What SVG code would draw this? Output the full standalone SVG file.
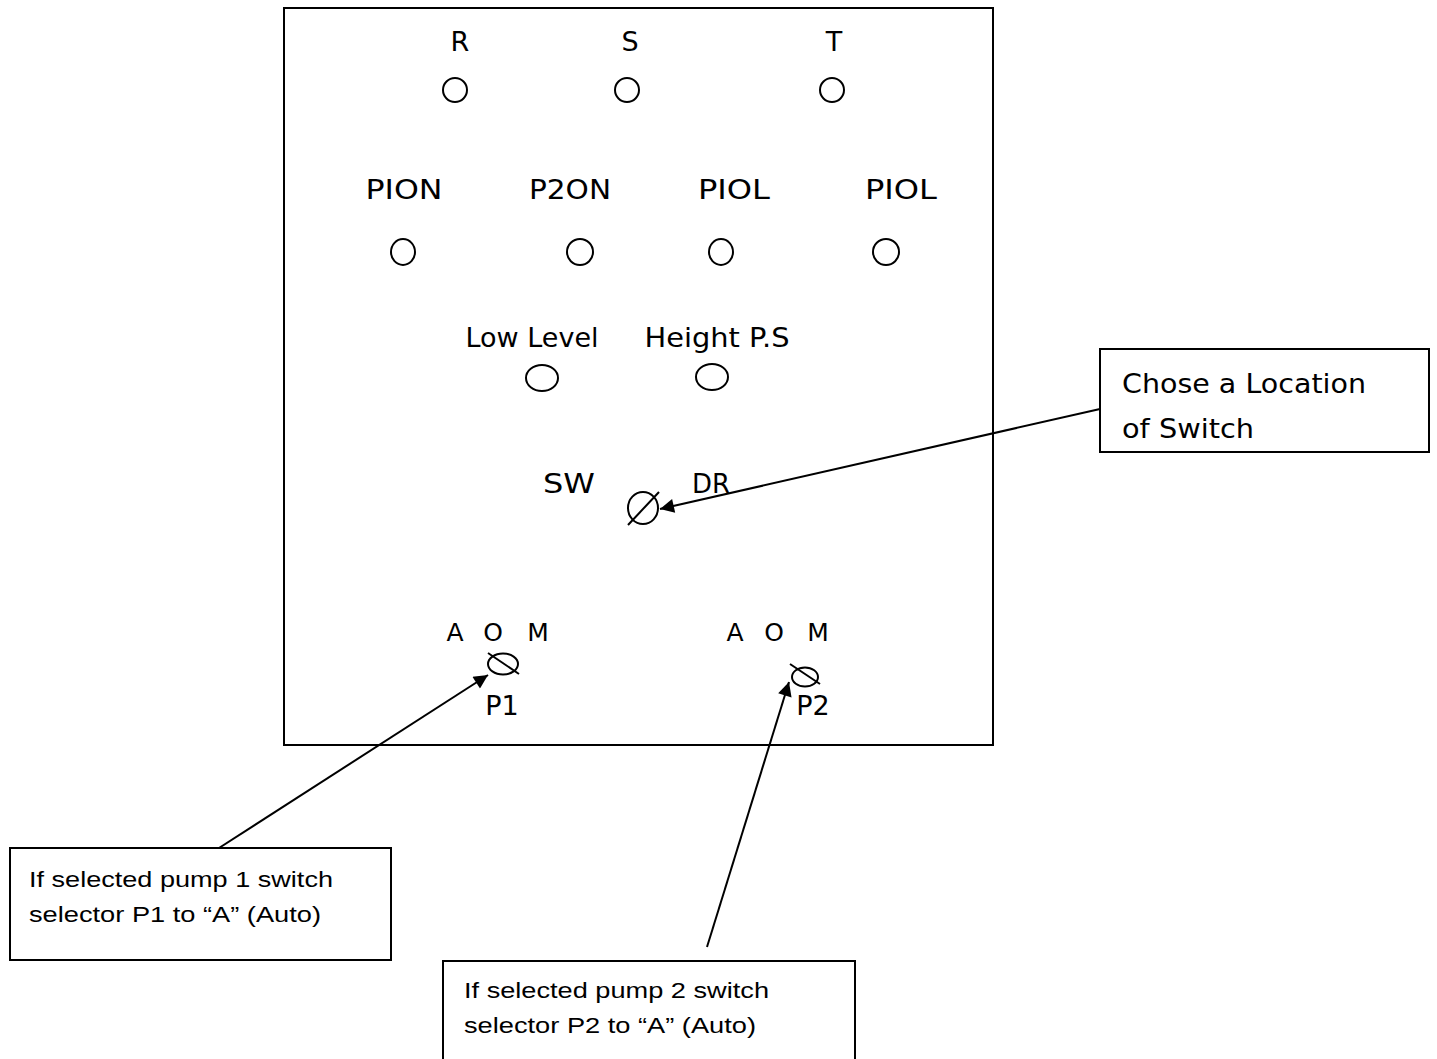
<svg xmlns="http://www.w3.org/2000/svg" width="1437" height="1059" viewBox="0 0 1437 1059">
<style>
.ln{fill:none;stroke:#000;stroke-width:2}
.lbl{font-family:"DejaVu Sans","Open Sans",sans-serif;font-size:27px;fill:#000;text-anchor:middle}
.sm{font-family:"DejaVu Sans","Open Sans",sans-serif;font-size:25px;fill:#000;text-anchor:middle}
.note{font-family:"DejaVu Sans","Open Sans",sans-serif;font-size:27px;fill:#000}
.cal{font-family:"Liberation Sans","Open Sans",sans-serif;font-size:22px;fill:#000}
.box{fill:#fff;stroke:#000;stroke-width:2}
</style>
<defs>
<marker id="ahb" viewBox="0 0 10 10" refX="10" refY="5" markerWidth="18" markerHeight="14" markerUnits="userSpaceOnUse" orient="auto">
<path d="M0,0 L10,5 L0,10 z" fill="#000"/>
</marker>
</defs>
<rect width="1437" height="1059" fill="#fff"/>
<g id="panel">
<rect x="284" y="8" width="709" height="737" class="ln"/>
</g>
<g id="phase-lamps">
<text x="460" y="51" class="lbl">R</text>
<text x="630" y="51" class="lbl">S</text>
<text x="834" y="51" class="lbl">T</text>
<ellipse cx="455" cy="90" rx="12" ry="12" class="ln"/>
<ellipse cx="627" cy="90" rx="12" ry="12" class="ln"/>
<ellipse cx="832" cy="90" rx="12" ry="12" class="ln"/>
</g>
<g id="pump-lamps">
<text x="404" y="199" class="lbl" textLength="77" lengthAdjust="spacingAndGlyphs">PION</text>
<text x="570" y="199" class="lbl" textLength="82" lengthAdjust="spacingAndGlyphs">P2ON</text>
<text x="734" y="199" class="lbl" textLength="72" lengthAdjust="spacingAndGlyphs">PIOL</text>
<text x="901" y="199" class="lbl" textLength="72" lengthAdjust="spacingAndGlyphs">PIOL</text>
<ellipse cx="403" cy="252" rx="12" ry="13" class="ln"/>
<ellipse cx="580" cy="252" rx="13" ry="13" class="ln"/>
<ellipse cx="721" cy="252" rx="12" ry="13" class="ln"/>
<ellipse cx="886" cy="252" rx="13" ry="13" class="ln"/>
</g>
<g id="level-lamps">
<text x="532" y="347" class="lbl" textLength="133" lengthAdjust="spacingAndGlyphs">Low Level</text>
<text x="717" y="347" class="lbl" textLength="145" lengthAdjust="spacingAndGlyphs">Height P.S</text>
<ellipse cx="542" cy="378" rx="16" ry="13" class="ln"/>
<ellipse cx="712" cy="377" rx="16" ry="13" class="ln"/>
</g>
<g id="sw-dr">
<text x="569" y="493" class="lbl" textLength="52" lengthAdjust="spacingAndGlyphs">SW</text>
<text x="711" y="493" class="lbl" textLength="38" lengthAdjust="spacingAndGlyphs">DR</text>
<ellipse cx="643" cy="508" rx="15" ry="16" class="ln"/>
<line x1="628" y1="525" x2="659" y2="492" class="ln"/>
</g>
<g id="p1-selector">
<text x="455" y="641" class="sm">A</text>
<text x="493" y="641" class="sm">O</text>
<text x="538" y="641" class="sm">M</text>
<ellipse cx="503" cy="664" rx="15" ry="10.5" class="ln"/>
<line x1="488" y1="653" x2="519" y2="674" class="ln"/>
<text x="502" y="715" class="lbl">P1</text>
</g>
<g id="p2-selector">
<text x="735" y="641" class="sm">A</text>
<text x="774" y="641" class="sm">O</text>
<text x="818" y="641" class="sm">M</text>
<ellipse cx="805" cy="677" rx="13" ry="9.5" class="ln"/>
<line x1="790" y1="664" x2="820" y2="684" class="ln"/>
<text x="813" y="715" class="lbl">P2</text>
</g>
<g id="note-switch">
<rect x="1100" y="349" width="329" height="103" class="box"/>
<text x="1122" y="393" class="note" textLength="244" lengthAdjust="spacingAndGlyphs">Chose a Location</text>
<text x="1122" y="438" class="note" textLength="132" lengthAdjust="spacingAndGlyphs">of Switch</text>
</g>
<g id="note-p1">
<rect x="10" y="848" width="381" height="112" class="box"/>
<text x="29" y="887" class="cal" textLength="304" lengthAdjust="spacingAndGlyphs">If selected pump 1 switch</text>
<text x="29" y="922" class="cal" textLength="292" lengthAdjust="spacingAndGlyphs">selector P1 to “A” (Auto)</text>
</g>
<g id="note-p2">
<rect x="443" y="961" width="412" height="110" class="box"/>
<text x="464" y="998" class="cal" textLength="305" lengthAdjust="spacingAndGlyphs">If selected pump 2 switch</text>
<text x="464" y="1033" class="cal" textLength="292" lengthAdjust="spacingAndGlyphs">selector P2 to “A” (Auto)</text>
</g>
<g id="connectors">
<line x1="1100" y1="409" x2="660" y2="509" class="ln" marker-end="url(#ahb)"/>
<line x1="219" y1="848" x2="488" y2="675" class="ln" marker-end="url(#ahb)"/>
<line x1="707" y1="947" x2="789" y2="682" class="ln" marker-end="url(#ahb)"/>
</g>
</svg>
